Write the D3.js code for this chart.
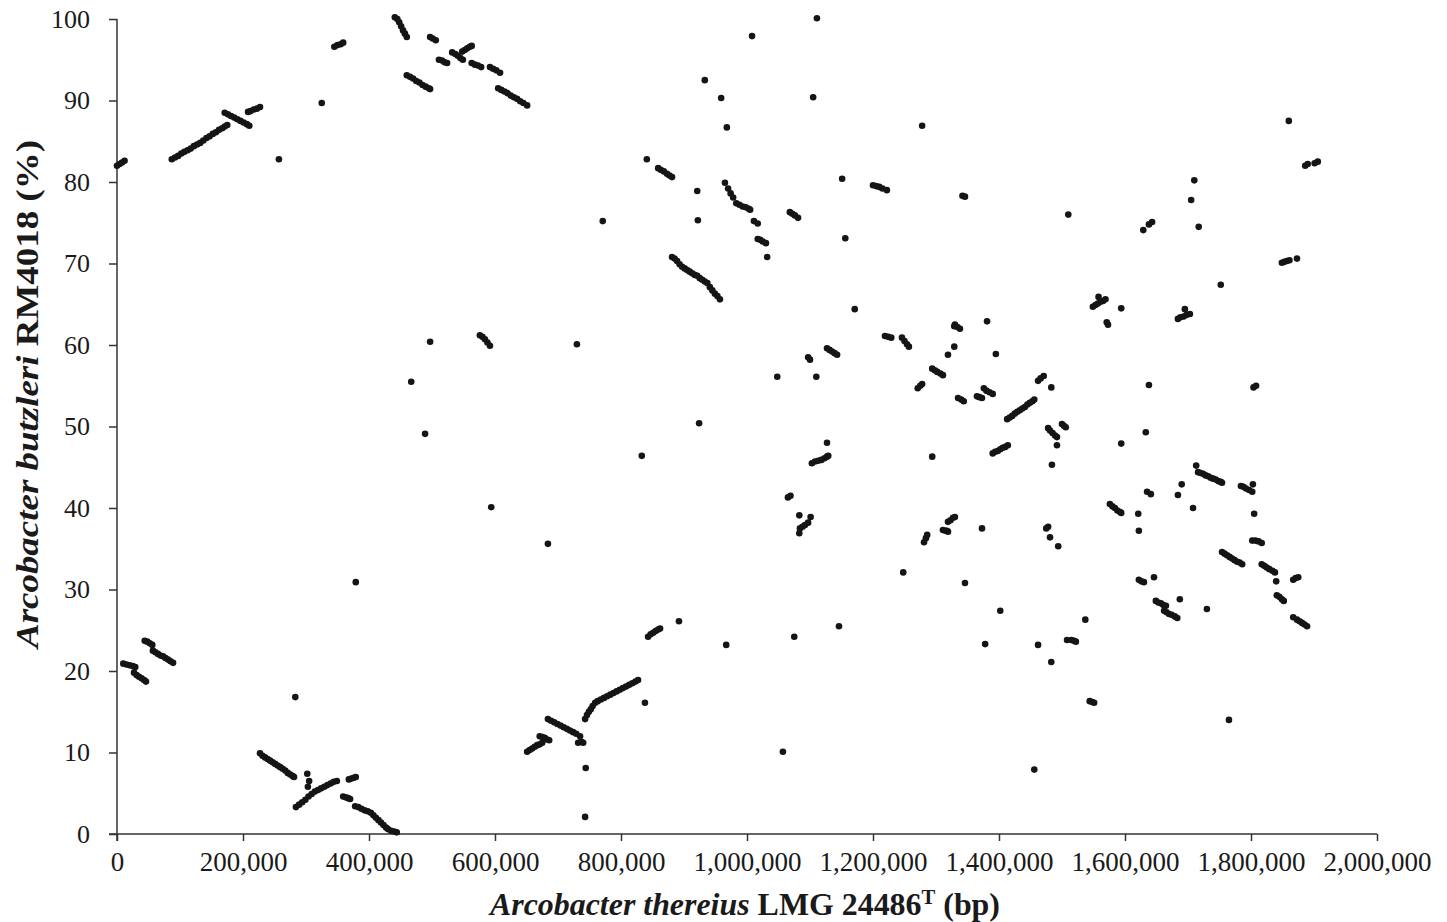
<!DOCTYPE html>
<html>
<head>
<meta charset="utf-8">
<script src="https://cdn.jsdelivr.net/npm/d3@7"></script>
<style>
  body { margin: 0; background: #fff; }
  text { font-family: "Liberation Serif", "Times New Roman", serif; fill: #1a1a1a; }
</style>
</head>
<body>
<div id="chart"></div>
<script>
// positions in kb of A. thereius, identity (%) vs A. butzleri RM4018
var hits0to450 = [
  [0,82.0],[4,82.2],[8,82.4],[12,82.6],
  [87,82.8],[92,83.0],[97,83.2],[102,83.5],[107,83.7],[112,83.9],[117,84.1],[122,84.4],[127,84.6],[132,84.8],
  [137,85.1],[142,85.4],[147,85.6],[152,85.9],[157,86.1],[162,86.4],[167,86.6],[171,86.8],[175,87.0],
  [171,88.5],[176,88.3],[181,88.1],[186,87.9],[191,87.7],[196,87.5],[201,87.3],[206,87.1],[210,86.9],
  [208,88.6],[212,88.7],[217,88.9],[222,89.0],[227,89.2],
  [257,82.8],[325,89.7],
  [345,96.6],[350,96.8],[355,96.9],[359,97.1],
  [10,20.9],[15,20.8],[20,20.7],[25,20.6],[29,20.5],
  [27,19.8],[31,19.5],[35,19.3],[39,19.1],[43,18.9],[46,18.7],
  [44,23.7],[48,23.6],[52,23.4],[56,23.2],
  [57,22.5],[61,22.3],[65,22.1],[69,21.9],[73,21.8],[77,21.6],[81,21.4],[85,21.2],[89,21.0],
  [283,16.8],[379,30.9],
  [227,9.9],[231,9.6],[235,9.4],[239,9.2],[243,9.0],[247,8.8],[251,8.6],[255,8.4],[259,8.2],[263,8.0],
  [267,7.8],[271,7.5],[275,7.3],[279,7.1],[281,7.0],
  [302,7.4],[305,6.5],[303,5.8],
  [284,3.3],[289,3.6],[294,3.9],[299,4.2],[304,4.6],[309,4.9],[314,5.2],[319,5.4],[324,5.6],[329,5.8],
  [334,6.0],[339,6.2],[344,6.4],[349,6.5],
  [368,6.7],[372,6.8],[376,6.9],[379,7.0],
  [359,4.6],[363,4.5],[367,4.4],[370,4.3],
  [378,3.4],[383,3.3],[388,3.1],[393,2.9],[398,2.8],[403,2.6],[407,2.3],[411,2.0],[415,1.7],[419,1.4],
  [423,1.1],[427,0.8],[430,0.6],[435,0.4],[440,0.3],[444,0.2]
];

var hits450to900 = [
  [441,100.2],[445,100.0],[448,99.6],[451,99.1],[454,98.6],[457,98.2],[460,97.8],
  [497,97.8],[501,97.6],[506,97.4],
  [460,93.1],[465,92.9],[470,92.7],[475,92.4],[480,92.2],[485,91.9],[490,91.7],[495,91.5],[497,91.4],
  [511,95.0],[516,94.9],[520,94.7],[524,94.6],
  [532,95.9],[537,95.7],[541,95.5],[545,95.2],[549,95.0],
  [548,96.0],[552,96.2],[556,96.4],[560,96.6],[563,96.7],
  [563,94.6],[568,94.4],[573,94.3],[578,94.1],
  [592,94.1],[597,93.9],[602,93.7],[608,93.4],
  [605,91.5],[610,91.3],[615,91.1],[620,90.9],[625,90.6],[630,90.4],[635,90.2],[640,89.9],[645,89.7],[651,89.4],
  [497,60.4],[467,55.5],[489,49.1],[594,40.1],
  [576,61.2],[580,61.0],[584,60.7],[588,60.3],[592,59.9],
  [651,10.1],[655,10.3],[659,10.5],[663,10.7],[667,10.9],[671,11.0],[675,11.2],
  [671,12.0],[675,11.9],[679,11.8],[683,11.6],[686,11.5],
  [684,14.1],[689,13.9],[694,13.7],[699,13.5],[704,13.3],[709,13.1],[714,12.9],[719,12.7],[724,12.5],
  [729,12.3],[735,12.0],
  [732,11.2],[737,11.3],[740,11.2],[744,8.1],[743,2.1],
  [743,14.1],[746,14.6],[749,15.0],[752,15.3],[755,15.7],[759,16.1],
  [763,16.3],[768,16.5],[773,16.7],[778,16.9],[783,17.1],[788,17.3],[793,17.5],[798,17.7],[803,17.9],
  [808,18.1],[813,18.3],[818,18.5],[823,18.7],[827,18.9],
  [838,16.1],
  [843,24.2],[847,24.5],[851,24.7],[855,24.9],[859,25.1],[862,25.2],
  [892,26.1],[684,35.6],[730,60.1],[833,46.4],[771,75.2],[841,82.8],
  [859,81.7],[863,81.5],[868,81.3],[873,81.0],[877,80.8],[881,80.6]
];

var hits900to1300 = [
  [924,50.4],
  [881,70.8],[885,70.6],[889,70.3],[893,69.9],[897,69.6],[901,69.4],[905,69.2],[909,69.0],[913,68.8],
  [917,68.6],[921,68.5],[925,68.2],[929,68.0],[933,67.8],[937,67.6],[941,67.1],[945,66.7],[949,66.3],
  [953,66.0],[957,65.6],
  [921,78.9],[922,75.3],[933,92.5],[959,90.3],[968,86.7],[967,23.2],
  [965,79.9],[970,79.2],[974,78.6],[978,78.1],
  [983,77.4],[988,77.2],[993,77.0],[998,76.9],[1003,76.7],[1005,76.6],
  [1011,75.2],[1017,74.9],
  [1017,73.0],[1021,72.9],[1025,72.7],[1030,72.5],
  [1032,70.8],[1008,97.9],[1048,56.1],[1057,10.1],
  [1065,41.3],[1069,41.5],
  [1068,76.3],[1072,76.1],[1076,75.9],[1081,75.6],
  [1075,24.2],[1083,39.1],[1101,38.9],
  [1084,37.5],[1088,37.7],[1092,37.9],[1097,38.2],[1083,36.9],
  [1097,58.5],[1100,58.2],
  [1111,100.1],[1105,90.4],[1110,56.1],
  [1103,45.5],[1108,45.7],[1113,45.8],[1118,45.9],[1123,46.1],[1127,46.3],[1129,46.4],
  [1127,48.0],
  [1127,59.6],[1131,59.4],[1135,59.2],[1139,59.0],[1143,58.8],
  [1146,25.5],[1151,80.4],[1156,73.1],[1171,64.4],
  [1200,79.6],[1205,79.5],[1210,79.4],[1215,79.2],[1222,79.0],
  [1219,61.1],[1224,61.0],[1229,60.9],
  [1246,60.9],[1250,60.5],[1254,60.1],[1257,59.8],
  [1248,32.1],
  [1271,54.7],[1275,55.0],[1278,55.2],
  [1278,86.9],
  [1281,35.8],[1284,36.3],[1286,36.7],
  [1294,46.3],
  [1294,57.1],[1298,56.9],[1302,56.7],[1307,56.5],[1311,56.3]
];

var hits1300to1600 = [
  [1311,37.3],[1315,37.2],[1319,37.1],[1317,37.2],
  [1319,38.3],[1323,38.5],[1327,38.8],[1330,38.9],
  [1319,58.8],[1329,59.8],[1329,62.3],
  [1330,62.5],[1334,62.2],[1338,62.0],
  [1335,53.5],[1340,53.3],[1344,53.1],
  [1342,78.3],[1346,78.2],
  [1346,30.8],
  [1365,53.7],[1369,53.6],[1373,53.5],
  [1376,54.7],[1380,54.4],[1385,54.2],[1390,54.0],
  [1373,37.5],[1378,23.3],[1381,62.9],[1395,58.9],[1402,27.4],
  [1390,46.7],[1394,46.9],[1398,47.0],[1402,47.2],[1406,47.4],[1410,47.5],[1414,47.7],
  [1413,50.9],[1417,51.1],[1421,51.3],[1425,51.6],[1429,51.8],[1433,52.0],[1437,52.2],[1441,52.4],
  [1445,52.7],[1449,52.9],[1453,53.1],[1456,53.3],
  [1462,55.6],[1466,55.9],[1471,56.2],
  [1483,54.8],[1456,7.9],[1462,23.2],[1483,21.1],
  [1478,49.8],[1481,49.5],[1485,49.2],[1489,48.9],[1492,48.7],
  [1492,47.7],[1484,45.3],
  [1500,50.3],[1503,50.1],[1506,49.9],
  [1475,37.5],[1478,37.7],[1481,36.4],[1494,35.3],
  [1510,76.0],
  [1508,23.8],[1515,23.8],[1519,23.7],[1522,23.6],
  [1537,26.3],
  [1544,16.3],[1548,16.2],[1551,16.1],
  [1549,64.7],[1553,64.9],[1557,65.1],[1558,65.9],[1561,65.3],[1565,65.4],[1569,65.6],
  [1571,62.8],[1573,62.5],
  [1594,64.5],[1594,47.9],
  [1576,40.5],[1580,40.2],[1584,40.0],[1588,39.7],[1592,39.5],[1594,39.4]
];

var hits1600to1910 = [
  [1633,49.3],[1621,39.3],[1622,37.2],
  [1622,31.2],[1626,31.0],[1630,30.9],
  [1646,31.5],
  [1629,74.1],[1638,74.8],[1643,75.1],
  [1638,55.1],
  [1635,42.0],[1641,41.7],
  [1649,28.6],[1653,28.4],[1657,28.3],[1661,28.1],[1665,28.0],
  [1662,27.4],[1666,27.2],[1670,27.0],[1674,26.9],[1679,26.7],[1683,26.5],
  [1687,28.8],[1684,41.6],[1690,42.9],
  [1684,63.2],[1688,63.4],[1693,63.5],[1698,63.7],[1703,63.8],[1695,64.4],
  [1705,77.8],[1710,80.2],[1717,74.5],[1708,40.0],
  [1713,45.2],
  [1716,44.4],[1720,44.3],[1724,44.2],[1728,44.0],[1732,43.9],[1736,43.7],[1740,43.6],[1744,43.5],
  [1748,43.3],[1752,43.2],[1754,43.1],
  [1730,27.6],[1752,67.4],[1765,14.0],
  [1754,34.6],[1758,34.4],[1762,34.2],[1766,34.0],[1770,33.8],[1774,33.6],[1778,33.4],[1782,33.3],[1786,33.1],
  [1784,42.7],[1788,42.6],[1792,42.4],[1797,42.2],[1802,42.0],[1803,42.9],
  [1805,39.3],[1804,54.8],[1808,55.0],
  [1802,36.0],[1807,36.0],[1812,35.9],[1817,35.7],
  [1817,33.1],[1821,32.9],[1825,32.7],[1829,32.5],[1834,32.3],[1838,32.1],
  [1840,31.0],
  [1841,29.3],[1845,29.1],[1849,28.8],[1852,28.6],
  [1849,70.1],[1853,70.2],[1857,70.3],[1861,70.4],[1873,70.6],
  [1860,87.5],
  [1867,31.2],[1871,31.4],[1875,31.5],
  [1867,26.6],
  [1873,26.3],[1877,26.1],[1881,25.9],[1885,25.7],[1889,25.5],
  [1886,82.0],[1890,82.2],[1901,82.3],[1906,82.5]
];

var xTicks = [0, 200, 400, 600, 800, 1000, 1200, 1400, 1600, 1800, 2000];
var yTicks = [0, 10, 20, 30, 40, 50, 60, 70, 80, 90, 100];

var margin = {top: 19, right: 70, bottom: 88, left: 117},
    width = 1260,
    height = 815;

var svg = d3.select("#chart")
  .append("svg")
    .attr("width", 1447)
    .attr("height", 922)
  .append("g")
    .attr("transform", "translate(" + margin.left + "," + margin.top + ")");

var x = d3.scaleLinear()
    .domain([0, 2000])
    .range([0, width]);

var y = d3.scaleLinear()
    .domain([0, 100])
    .range([height, 0]);

var fmt = d3.format(",");

var xAxis = svg.append("g")
    .attr("transform", "translate(0," + height + ")")
    .call(d3.axisBottom(x).tickValues(xTicks).tickSize(7).tickSizeOuter(0)
      .tickFormat(function(d) { return fmt(d * 1000); }));
xAxis.selectAll("text")
    .attr("y", 37)
    .attr("dy", 0)
    .style("font-size", "27px");

var yAxis = svg.append("g")
    .call(d3.axisLeft(y).tickValues(yTicks).tickSize(8).tickSizeOuter(0));
yAxis.selectAll("text")
    .attr("x", -27)
    .style("font-size", "26px");

svg.selectAll(".domain, .tick line")
    .attr("stroke", "#333")
    .attr("stroke-width", 1.5);
xAxis.select(".domain").attr("d", "M-8,0H" + width);
yAxis.select(".domain").attr("d", "M0,0V" + (height + 7));

var allHits = [].concat(hits0to450, hits450to900, hits900to1300, hits1300to1600, hits1600to1910);

svg.selectAll("circle.hit")
    .data(allHits)
    .enter()
    .append("circle")
    .attr("class", "hit")
    .attr("cx", function(d) { return x(d[0]); })
    .attr("cy", function(d) { return y(d[1]); })
    .attr("r", 3.3)
    .attr("fill", "#151515");

// axis titles (stretched to the widths seen in the figure)
var xt = svg.append("text")
    .attr("x", 745 - margin.left)
    .attr("y", height + 81)
    .attr("text-anchor", "middle")
    .style("font-size", "31px")
    .style("font-weight", "bold");
xt.append("tspan").style("font-style", "italic").text("Arcobacter thereius");
xt.append("tspan").text(" LMG 24486");
xt.append("tspan").attr("dy", -11).style("font-size", "20px").text("T");
xt.append("tspan").attr("dy", 11).text(" (bp)");
xt.attr("textLength", 510).attr("lengthAdjust", "spacingAndGlyphs");

var yt = svg.append("text")
    .attr("transform", "translate(" + (38 - margin.left) + "," + (394 - margin.top) + ") rotate(-90)")
    .attr("text-anchor", "middle")
    .style("font-size", "31px")
    .style("font-weight", "bold");
yt.append("tspan").style("font-style", "italic").text("Arcobacter butzleri");
yt.append("tspan").text(" RM4018 (%)");
yt.attr("textLength", 508).attr("lengthAdjust", "spacingAndGlyphs");
</script>
</body>
</html>
